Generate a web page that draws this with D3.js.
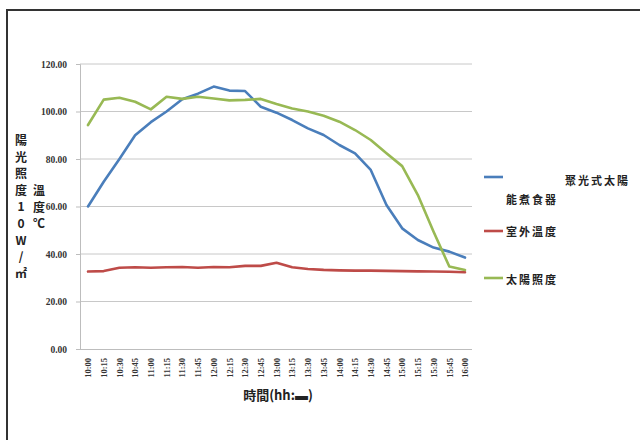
<!DOCTYPE html>
<html>
<head>
<meta charset="utf-8">
<script src="https://cdn.jsdelivr.net/npm/d3@7/dist/d3.min.js"></script>
<style>
  html, body { margin: 0; padding: 0; background: #fff; }
  svg { display: block; }
  .num { font-family: "Liberation Serif", "DejaVu Serif", serif; font-weight: bold; fill: #333; }
  .cjk { font-family: "Noto Sans CJK TC", "Noto Sans CJK SC", sans-serif; font-weight: bold; fill: #222; }
</style>
</head>
<body>
<script>
// Time of day, every 15 minutes
const times = ["10:00","10:15","10:30","10:45","11:00","11:15","11:30","11:45",
               "12:00","12:15","12:30","12:45","13:00","13:15","13:30","13:45",
               "14:00","14:15","14:30","14:45","15:00","15:15","15:30","15:45","16:00"];

// Concentrating solar cooker temperature (°C)
const cookerTemp = [60.0, 70.4, 80.0, 90.0, 95.5, 100.0, 105.2, 107.5, 110.5, 108.8, 108.6, 102.0,
                    99.5, 96.4, 92.9, 90.1, 85.9, 82.4, 75.4, 60.6, 50.8, 45.9, 42.7, 41.0, 38.5];

// Outdoor temperature (°C)
const outdoorTemp = [32.6, 32.8, 34.2, 34.4, 34.2, 34.4, 34.5, 34.2, 34.5, 34.4, 35.0, 35.0,
                     36.3, 34.4, 33.7, 33.3, 33.1, 33.0, 33.0, 32.9, 32.8, 32.7, 32.6, 32.5, 32.3];

// Solar irradiance (10 W/㎡)
const irradiance = [94.3, 105.0, 105.8, 104.1, 100.9, 106.2, 105.3, 106.2, 105.5, 104.7, 104.9, 105.3,
                    103.2, 101.3, 100.0, 98.2, 95.7, 92.2, 88.0, 82.4, 77.0, 64.8, 49.4, 34.7, 33.3];

const yTicks = [0, 20, 40, 60, 80, 100, 120];

const seriesNames = ["聚光式太陽能煮食器", "室外溫度", "太陽照度"];
const seriesColors = ["#4a7ebb", "#be4b48", "#98b954"];
const seriesValues = [cookerTemp, outdoorTemp, irradiance];

const W = 640, H = 440;
const svg = d3.select("body").append("svg").attr("width", W).attr("height", H);

// outer frame
svg.append("rect")
  .attr("x", 7).attr("y", 10).attr("width", W).attr("height", H)
  .attr("fill", "none").attr("stroke", "#333").attr("stroke-width", 2);

const plotLeft = 80, plotRight = 472, plotTop = 64, plotBottom = 349;

const x = d3.scalePoint().domain(times).range([88, 465]);
const y = d3.scaleLinear().domain([0, 120]).range([plotBottom, plotTop]);

// horizontal gridlines
svg.append("g").selectAll("line").data(yTicks.filter(d => d > 0)).join("line")
  .attr("x1", plotLeft).attr("x2", plotRight)
  .attr("y1", d => y(d)).attr("y2", d => y(d))
  .attr("stroke", "#c8c8c8").attr("stroke-width", 1);

// y axis
const yAxis = svg.append("g").attr("transform", `translate(${plotLeft},0)`)
  .call(d3.axisLeft(y).tickValues(yTicks).tickFormat(d3.format(".2f")).tickSize(4).tickPadding(9));
yAxis.select(".domain").attr("stroke", "#bdbdbd");
yAxis.selectAll(".tick line").attr("stroke", "#bdbdbd");
yAxis.selectAll("text").attr("class", "num").style("font-size", "9.5px");

// x axis
const xAxis = svg.append("g").attr("transform", `translate(0,${plotBottom})`)
  .call(d3.axisBottom(x).tickSize(0).tickPadding(0));
xAxis.select(".domain").attr("d", `M${plotLeft},0.5H${plotRight}`).attr("stroke", "#bdbdbd");
xAxis.selectAll("text")
  .attr("class", "num")
  .style("font-size", "8.5px")
  .attr("text-anchor", "end")
  .attr("dy", "0.32em")
  .attr("transform", "translate(0,9) rotate(-90)")
  .attr("x", 0).attr("y", 0);

// series lines
const line = d3.line().x((d, i) => x(times[i])).y(d => y(d));
seriesValues.forEach((vals, k) => {
  svg.append("path").datum(vals)
    .attr("d", line)
    .attr("fill", "none")
    .attr("stroke", seriesColors[k])
    .attr("stroke-width", 2.6)
    .attr("stroke-linejoin", "round")
    .attr("stroke-linecap", "round");
});

// x axis title
svg.append("text").attr("class", "cjk")
  .attr("x", 278).attr("y", 400).attr("text-anchor", "middle")
  .style("font-size", "13px")
  .text("時間(hh:▬)");

// vertical y axis titles
const leftTitle = ["陽", "光", "照", "度", "1", "0", "W", "/", "㎡"];
svg.append("g").selectAll("text").data(leftTitle).join("text")
  .attr("class", "cjk")
  .attr("x", 21).attr("y", (d, i) => 145 + i * 16.6)
  .attr("text-anchor", "middle")
  .style("font-size", "12px")
  .text(d => d);

const rightTitle = ["溫", "度", "℃"];
svg.append("g").selectAll("text").data(rightTitle).join("text")
  .attr("class", "cjk")
  .attr("x", 39).attr("y", (d, i) => 195 + i * 16.6)
  .attr("text-anchor", "middle")
  .style("font-size", "12px")
  .text(d => d);

// legend
const legendRows = [
  { y: 177, lines: [{ x: 565, y: 185, t: "聚光式太陽" }, { x: 506, y: 204, t: "能煮食器" }] },
  { y: 231, lines: [{ x: 506, y: 236, t: "室外溫度" }] },
  { y: 278, lines: [{ x: 506, y: 284, t: "太陽照度" }] }
];
const legend = svg.append("g");
legendRows.forEach((row, k) => {
  legend.append("line")
    .attr("x1", 484).attr("x2", 503)
    .attr("y1", row.y).attr("y2", row.y)
    .attr("stroke", seriesColors[k]).attr("stroke-width", 2.6);
  row.lines.forEach(l => {
    legend.append("text").attr("class", "cjk")
      .attr("x", l.x).attr("y", l.y)
      .style("font-size", "11px")
      .style("letter-spacing", "2px")
      .text(l.t);
  });
});
</script>
</body>
</html>
